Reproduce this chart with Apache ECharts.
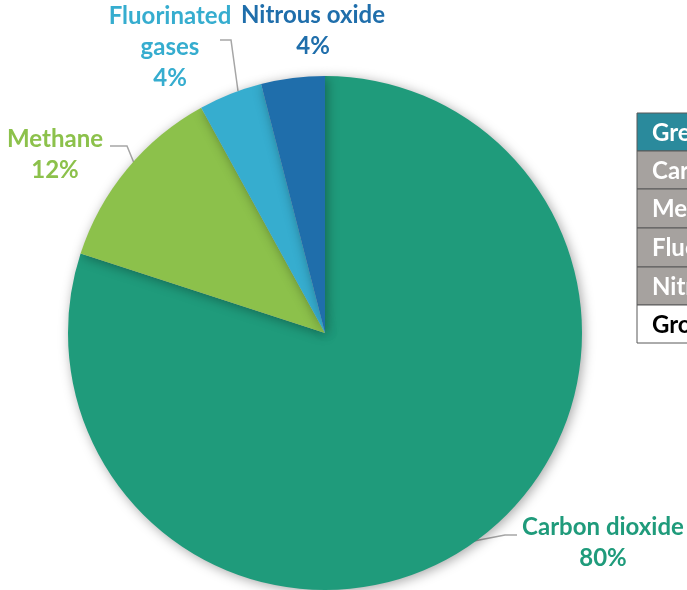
<!DOCTYPE html>
<html>
<head>
<meta charset="utf-8">
<script src="https://cdn.jsdelivr.net/npm/echarts@6/dist/echarts.min.js"></script>
<style>
html,body{margin:0;padding:0;background:#fff;}
#chart{width:687px;height:590px;}
</style>
</head>
<body>
<div id="chart"></div>
<script>
var categories = ['Carbon dioxide', 'Methane', 'Fluorinated gases', 'Nitrous oxide'];
var values = [80, 12, 4, 4];
var tableRows = ['Greenhouse gas', 'Carbon dioxide', 'Methane', 'Fluorinated gases', 'Nitrous oxide', 'Gross total'];

var colors = ['#1f9b7b', '#8cc14b', '#36adcf', '#1f6eab'];
var labelPos = [
  {x: 603, y: 543, line: [[474, 541], [505, 535], [517, 535]]},
  {x: 55, y: 155, line: [[110, 146], [127, 146], [134, 163]]},
  {x: 170, y: 47, line: [[220, 40], [231, 40], [238, 91]]},
  {x: 313, y: 31, line: null}
];

var chart = echarts.init(document.getElementById('chart'));
var FONT = 'Lato';

var data = categories.map(function (c, i) {
  return {
    name: c,
    value: values[i],
    itemStyle: {color: colors[i]},
    label: {color: colors[i]},
    labelLine: {show: labelPos[i].line !== null}
  };
});

// table graphic
var graphics = [];
var rowTops = [113, 151, 189, 228, 267, 305, 343];
for (var r = 0; r < tableRows.length; r++) {
  var fill = r === 0 ? '#2a8a9c' : (r === tableRows.length - 1 ? '#ffffff' : '#a6a29f');
  var tcol = r === tableRows.length - 1 ? '#000000' : '#ffffff';
  graphics.push({
    type: 'rect',
    shape: {x: 637, y: rowTops[r], width: 120, height: rowTops[r + 1] - rowTops[r]},
    style: {fill: fill, stroke: '#595959', lineWidth: 1}
  });
  graphics.push({
    type: 'text',
    x: 652,
    y: (rowTops[r] + rowTops[r + 1]) / 2 + 1,
    style: {
      text: tableRows[r],
      fill: tcol,
      font: 'bold 24px ' + FONT,
      verticalAlign: 'middle',
      align: 'left'
    }
  });
}

chart.setOption({
  animation: false,
  backgroundColor: '#ffffff',
  graphic: graphics,
  series: [{
    type: 'pie',
    center: [325, 333],
    radius: 257,
    startAngle: 90,
    clockwise: true,
    data: data,
    itemStyle: {
      borderWidth: 0,
      shadowBlur: 12,
      shadowColor: 'rgba(0,0,0,0.35)',
      shadowOffsetX: 2,
      shadowOffsetY: 2
    },
    label: {
      show: true,
      position: 'outside',
      fontFamily: FONT,
      fontWeight: 'bold',
      fontSize: 24,
      lineHeight: 31,
      align: 'center',
      overflow: 'none',
      formatter: function (p) {
        return p.name.replace(' gases', '\ngases') + '\n' + p.value + '%';
      }
    },
    labelLine: {
      show: true,
      lineStyle: {color: '#a6a6a6', width: 1.5}
    },
    labelLayout: function (params) {
      var lp = labelPos[params.dataIndex];
      var res = {x: lp.x, y: lp.y, align: 'center', verticalAlign: 'middle', moveOverlap: false};
      if (lp.line) res.labelLinePoints = lp.line;
      return res;
    },
    emphasis: {disabled: true}
  }]
});
</script>
</body>
</html>
